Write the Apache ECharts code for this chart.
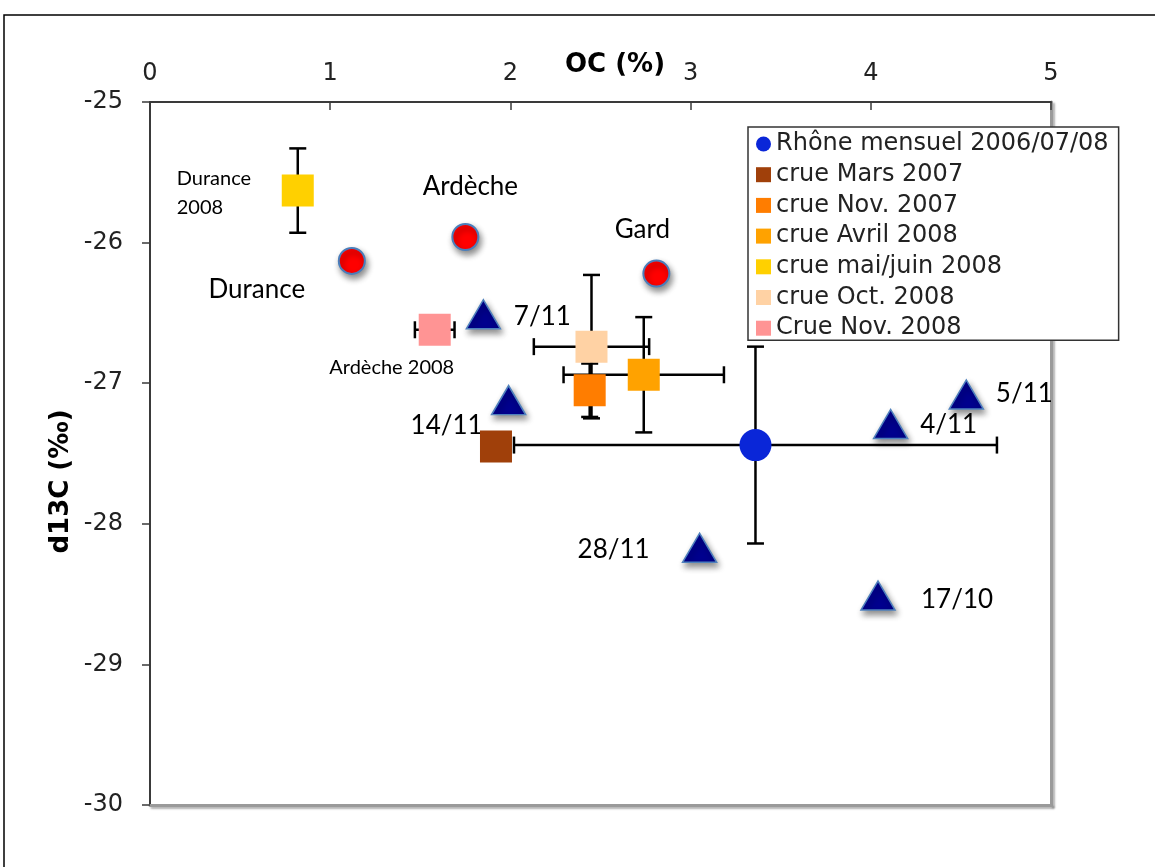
<!DOCTYPE html>
<html>
<head>
<meta charset="utf-8">
<title>OC / d13C</title>
<script src="https://cdn.jsdelivr.net/npm/echarts@6/dist/echarts.min.js"></script>
<style>
  html, body { margin: 0; padding: 0; background: #fff; }
  #chart { width: 1155px; height: 867px; }
</style>
</head>
<body>
<div id="chart"></div>
<script>
// Graduations des axes
const xTicks = [0, 1, 2, 3, 4, 5];
const yTicks = [-30, -29, -28, -27, -26, -25];

// Crues : moyennes OC (%) et d13C (‰), avec écarts (±)
const crueNames = ['Rhône mensuel 2006/07/08', 'crue Mars 2007', 'crue Nov. 2007', 'crue Avril 2008',
                   'crue mai/juin 2008', 'crue Oct. 2008', 'Crue Nov. 2008'];
const crueOC    = [3.36, 1.92, 2.44, 2.74, 0.82, 2.45, 1.58];
const crueD13C  = [-27.44, -27.45, -27.05, -26.94, -25.63, -26.74, -26.62];
const crueErrOC   = [1.34, 0, 0, 0.445, 0, 0.32, 0.11];
const crueErrD13C = [0.70, 0, 0.19, 0.41, 0.30, 0.51, 0];
const crueTags  = ['', '', '', '', 'Durance\n2008', '', 'Ardèche 2008'];

// Affluents
const affluentNames = ['Durance', 'Ardèche', 'Gard'];
const affluentOC    = [1.12, 1.75, 2.81];
const affluentD13C  = [-26.13, -25.96, -26.22];

// Prélèvements datés
const dateNames = ['7/11', '14/11', '28/11', '4/11', '5/11', '17/10'];
const dateOC    = [1.85, 1.99, 3.05, 4.11, 4.53, 4.04];
const dateD13C  = [-26.51, -27.12, -28.17, -27.29, -27.08, -28.51];

// Apparence
const crueColors = ['#0a26d8', '#a0400a', '#ff7d00', '#ffa200', '#ffd000', '#ffd2a4', '#ff9494'];
const crueLabelOffsets = [null, null, null, null, [-121, 2], null, [-43, 38]];
const crueLabelAlign   = [null, null, null, null, 'left', null, 'center'];
const affluentLabelOffsets = [[-95, 29], [5, -50], [-14, -44]];
const dateLabelOffsets = [[59, 2], [-62, 26], [-86, 2], [58, 1], [58, -1], [79, 4]];

const FONT = 'DejaVu Sans';
const LABEL_FONT = 'Lato';
const shadow = { shadowColor: 'rgba(0,0,0,0.45)', shadowBlur: 6, shadowOffsetX: 2, shadowOffsetY: 4 };

const chart = echarts.init(document.getElementById('chart'), null, { renderer: 'canvas' });

// Barres d'erreur en I
function renderErrorBar(params, api) {
  const x = api.value(0), y = api.value(1), ex = api.value(2), ey = api.value(3);
  const c = api.coord([x, y]);
  const cap = 8.5;
  const style = { stroke: '#000', lineWidth: 2.5 };
  const children = [];
  if (ex > 0) {
    const l = api.coord([x - ex, y])[0], r = api.coord([x + ex, y])[0];
    children.push({ type: 'line', shape: { x1: l, y1: c[1], x2: r, y2: c[1] }, style });
    children.push({ type: 'line', shape: { x1: l, y1: c[1] - cap, x2: l, y2: c[1] + cap }, style });
    children.push({ type: 'line', shape: { x1: r, y1: c[1] - cap, x2: r, y2: c[1] + cap }, style });
  }
  if (ey > 0) {
    const t = api.coord([x, y + ey])[1], b = api.coord([x, y - ey])[1];
    children.push({ type: 'line', shape: { x1: c[0], y1: t, x2: c[0], y2: b }, style });
    children.push({ type: 'line', shape: { x1: c[0] - cap, y1: t, x2: c[0] + cap, y2: t }, style });
    children.push({ type: 'line', shape: { x1: c[0] - cap, y1: b, x2: c[0] + cap, y2: b }, style });
  }
  return { type: 'group', children };
}

const errorData = crueNames.map((n, i) => [crueOC[i], crueD13C[i], crueErrOC[i], crueErrD13C[i]])
  .filter(d => d[2] > 0 || d[3] > 0);

const bigLabel = { fontFamily: LABEL_FONT, fontSize: 26, color: '#000' };

const series = [];

series.push({
  type: 'custom',
  name: 'écarts',
  renderItem: renderErrorBar,
  data: errorData,
  encode: { x: 0, y: 1 },
  z: 2,
  silent: true
});

crueNames.forEach((name, i) => {
  const point = { value: [crueOC[i], crueD13C[i]] };
  if (crueTags[i]) {
    point.label = {
      show: true,
      formatter: crueTags[i],
      position: 'inside',
      offset: crueLabelOffsets[i],
      align: crueLabelAlign[i],
      fontFamily: LABEL_FONT,
      fontSize: 20,
      lineHeight: 29,
      color: '#000'
    };
  }
  series.push({
    type: 'scatter',
    name: name,
    symbol: i === 0 ? 'circle' : 'rect',
    symbolSize: 32,
    itemStyle: { color: crueColors[i], opacity: 1 },
    data: [point],
    z: 5
  });
});

series.push({
  type: 'scatter',
  name: 'affluents',
  symbol: 'circle',
  symbolSize: 26,
  itemStyle: Object.assign({ color: '#ff0000', borderColor: '#4a7ebb', borderWidth: 2, opacity: 1 }, shadow),
  data: affluentNames.map((n, i) => ({
    value: [affluentOC[i], affluentD13C[i]],
    label: Object.assign({ show: true, formatter: n, position: 'inside', offset: affluentLabelOffsets[i] }, bigLabel)
  })),
  z: 4
});

series.push({
  type: 'scatter',
  name: 'dates',
  symbol: 'triangle',
  symbolSize: [34, 29],
  itemStyle: Object.assign({ color: '#00008e', borderColor: '#4f81bd', borderWidth: 1.5, opacity: 1 }, shadow),
  data: dateNames.map((n, i) => ({
    value: [dateOC[i], dateD13C[i]],
    label: Object.assign({ show: true, formatter: n, position: 'inside', offset: dateLabelOffsets[i] }, bigLabel)
  })),
  z: 4
});

const xMin = xTicks[0], xMax = xTicks[xTicks.length - 1], xStep = xTicks[1] - xTicks[0];
const yMin = yTicks[0], yMax = yTicks[yTicks.length - 1], yStep = yTicks[1] - yTicks[0];

const frameLine = {
  show: true, onZero: false,
  lineStyle: { color: '#9a9a9a', width: 3, shadowColor: 'rgba(0,0,0,0.3)', shadowBlur: 2, shadowOffsetX: 2, shadowOffsetY: 2 }
};

chart.setOption({
  animation: false,
  backgroundColor: '#fff',
  graphic: [{
    type: 'rect', z: -10,
    shape: { x: 4, y: 15, width: 1300, height: 1000 },
    style: { fill: 'none', stroke: '#000', lineWidth: 1.5 }
  }],
  grid: { left: 150, right: 104, top: 102, bottom: 62, containLabel: false },
  legend: {
    show: true,
    orient: 'vertical',
    left: 748, top: 127,
    padding: [5, 10, 0, 8],
    itemGap: 6.7,
    itemWidth: 15, itemHeight: 15,
    backgroundColor: '#fff',
    borderColor: '#333', borderWidth: 1.5, borderRadius: 0,
    selectedMode: false,
    textStyle: { fontFamily: FONT, fontSize: 24, lineHeight: 22, color: '#222' },
    data: crueNames.map((n, i) => ({ name: n, icon: i === 0 ? 'circle' : 'rect' })),
    z: 20
  },
  xAxis: [{
    type: 'value',
    position: 'top',
    min: xMin, max: xMax, interval: xStep,
    name: 'OC (%)',
    nameLocation: 'middle',
    nameGap: 24,
    nameMoveOverlap: false,
    nameTextStyle: { fontFamily: FONT, fontSize: 26, fontWeight: 'bold', color: '#000', padding: [0, 0, 0, 29] },
    axisLine: { show: true, onZero: false, lineStyle: { color: '#3a3a3a', width: 2 } },
    axisTick: { show: true, inside: true, length: 8, lineStyle: { color: '#3a3a3a', width: 1.5 } },
    axisLabel: { margin: 16, fontFamily: FONT, fontSize: 24, color: '#222' },
    splitLine: { show: false }
  }, {
    type: 'value',
    position: 'bottom',
    min: xMin, max: xMax, interval: xStep,
    axisLine: frameLine,
    axisTick: { show: false }, axisLabel: { show: false }, splitLine: { show: false }
  }],
  yAxis: [{
    type: 'value',
    position: 'left',
    min: yMin, max: yMax, interval: yStep,
    name: 'd13C (‰)',
    nameLocation: 'middle',
    nameGap: 76,
    nameMoveOverlap: false,
    nameRotate: 90,
    nameTextStyle: { fontFamily: FONT, fontSize: 26, fontWeight: 'bold', color: '#000', padding: [0, 56, 0, 0] },
    axisLine: { show: true, onZero: false, lineStyle: { color: '#3a3a3a', width: 2 } },
    axisTick: { show: true, inside: false, length: 8, lineStyle: { color: '#3a3a3a', width: 1.5 } },
    axisLabel: { margin: 27, fontFamily: FONT, fontSize: 24, color: '#222' },
    splitLine: { show: false }
  }, {
    type: 'value',
    position: 'right',
    min: yMin, max: yMax, interval: yStep,
    axisLine: frameLine,
    axisTick: { show: false }, axisLabel: { show: false }, splitLine: { show: false }
  }],
  series: series
});
</script>
</body>
</html>
